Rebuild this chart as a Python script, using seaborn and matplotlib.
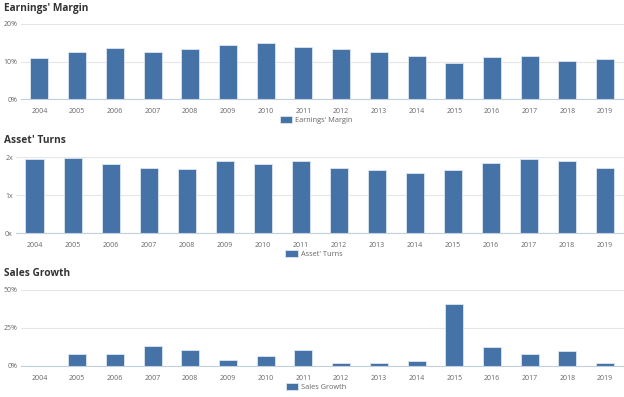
#%% imports
import numpy as np
import pandas as pd
import matplotlib
matplotlib.use("Agg")
import matplotlib.pyplot as plt
import seaborn as sns

#%% data
years = [str(y) for y in range(2004, 2020)]
earnings_margin = [10.9, 12.5, 13.5, 12.5, 13.3, 14.4, 14.8, 13.8,
                   13.3, 12.6, 11.6, 9.6, 11.2, 11.6, 10.2, 10.6]
asset_turns = [1.96, 1.97, 1.81, 1.71, 1.69, 1.90, 1.83, 1.90,
               1.71, 1.66, 1.59, 1.66, 1.84, 1.94, 1.90, 1.72]
sales_growth = [0.0, 7.5, 7.5, 12.7, 10.1, 3.5, 6.1, 10.1,
                2.0, 2.0, 2.9, 40.8, 12.1, 7.5, 9.4, 1.5]

#%% style
sns.set_theme(style="white")
plt.rcParams['font.family'] = ['Open Sans', 'DejaVu Sans']

bar_color = "#4572A7"
grid_color = "#E6E6E6"
axis_color = "#C0D0E0"
label_color = "#666666"
title_color = "#333333"

fig = plt.figure(figsize=(6.24, 3.97), dpi=100)

# each panel: (title, legend label, values, yticks, ytick labels, ymax, axes rect, title y)
panels = [
    ("Earnings' Margin", "Earnings' Margin", earnings_margin,
     [0, 10, 20], ["0%", "10%", "20%"], 20,
     [0.033, 0.750, 0.967, 0.190], 0.978),
    ("Asset' Turns", "Asset' Turns", asset_turns,
     [0, 1, 2], ["0x", "1x", "2x"], 2,
     [0.025, 0.413, 0.975, 0.191], 0.645),
    ("Sales Growth", "Sales Growth", sales_growth,
     [0, 25, 50], ["0%", "25%", "50%"], 50,
     [0.033, 0.079, 0.967, 0.191], 0.311),
]

for title, leg, vals, yt, ytl, ymax, rect, ty in panels:
    ax = fig.add_axes(rect)
    df = pd.DataFrame({"year": years, "value": vals})
    sns.barplot(data=df, x="year", y="value", color=bar_color, width=0.48,
                edgecolor="#DDE6F0", linewidth=0.6, label=leg, ax=ax,
                saturation=1)
    ax.set_xlim(-0.5, len(years) - 0.5)
    ax.set_ylim(0, ymax)
    ax.set_yticks(yt)
    ax.set_yticklabels(ytl)
    ax.set_xlabel("")
    ax.set_ylabel("")
    ax.grid(axis="y", color=grid_color, linewidth=0.8)
    ax.set_axisbelow(True)
    for s in ["top", "right", "left"]:
        ax.spines[s].set_visible(False)
    ax.spines["bottom"].set_color(axis_color)
    ax.spines["bottom"].set_linewidth(0.8)
    ax.tick_params(axis="y", length=0, pad=2, labelsize=5, labelcolor=label_color)
    ax.tick_params(axis="x", which="major", length=0, pad=6.5, labelsize=5,
                   labelcolor=label_color)
    # separator ticks between categories
    ax.set_xticks(np.arange(-0.5, len(years)), minor=True)
    ax.tick_params(axis="x", which="minor", length=5, color=axis_color, width=0.8)
    ax.legend(loc="center", bbox_to_anchor=(0.49, -0.28), frameon=False,
              fontsize=5.3, handlelength=1.7, handleheight=1.1, handletextpad=0.4,
              labelcolor=label_color)
    fig.text(0.006, ty, title, fontsize=7.3, fontweight="bold", color=title_color,
             va="center", ha="left")

fig.savefig("out.png", dpi=100)
